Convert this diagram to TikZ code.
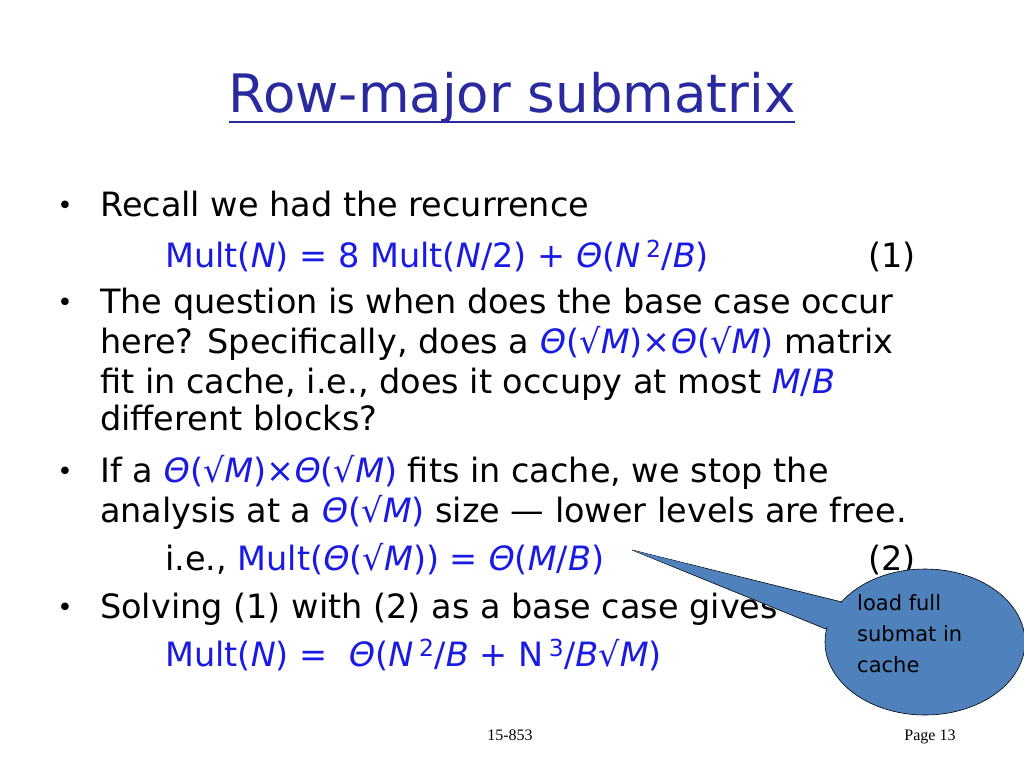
\documentclass[tikz,border=0pt]{standalone}
\usepackage{fontspec}
\usetikzlibrary{shapes.geometric}
\setmainfont{DejaVu Sans}
\newfontfamily\footfont{Liberation Serif}
\definecolor{tblue}{HTML}{2A2AA0}
\definecolor{mblue}{HTML}{1A1AE6}
\definecolor{callfill}{HTML}{4F81BD}
\begin{document}
\begin{tikzpicture}[x=1pt,y=-1pt,
  txt/.style={anchor=base west,inner sep=0pt,font=\fontsize{33.5}{40}\selectfont},
  bul/.style={anchor=base,inner sep=0pt,font=\fontsize{26}{30}\selectfont}]
\newcommand{\bl}[1]{\textcolor{mblue}{#1}}
\newcommand{\iv}[1]{\textit{#1}}
\useasboundingbox (0,0) rectangle (1024,768);
\fill[white] (0,0) rectangle (1024,768);
\node[anchor=base,inner sep=0pt,text=tblue,font=\fontsize{53}{60}\selectfont] (title) at (512,112) {Row-major submatrix};
\draw[tblue,line width=1.5pt] (229,122) -- (795,122);

\node[bul] (b1) at (65,214) {•};
\node[txt] (l1) at (100,216) {Recall we had the recurrence};
\node[txt] (l2) at (165,267) {\bl{Mult(\iv{N}) = 8 Mult(\iv{N}/2) + \iv{Θ}(\iv{N}\,\textsuperscript{2}/\iv{B})}};
\node[txt] (n1) at (868,267) {(1)};
\node[bul] (b2) at (65,311) {•};
\node[txt] (l3) at (100,313) {The question is when does the base case occur};
\node[txt] (l4) at (100,353) {here? Specifically, does a \bl{\iv{Θ}(√\iv{M})×\iv{Θ}(√\iv{M})} matrix};
\node[txt] (l5) at (100,393) {fit in cache, i.e., does it occupy at most \bl{\iv{M}/\iv{B}}};
\node[txt] (l6) at (100,430) {different blocks?};
\node[bul] (b3) at (65,480) {•};
\node[txt] (l7) at (100,482) {If a \bl{\iv{Θ}(√\iv{M})×\iv{Θ}(√\iv{M})} fits in cache, we stop the};
\node[txt] (l8) at (100,522) {analysis at a \bl{\iv{Θ}(√\iv{M})} size — lower levels are free.};
\node[txt] (l9) at (165,570) {i.e., \bl{Mult(\iv{Θ}(√\iv{M})) = \iv{Θ}(\iv{M}/\iv{B})}};
\node[txt] (n2) at (868,570) {(2)};
\node[bul] (b4) at (65,616) {•};
\node[txt] (l10) at (100,618) {Solving (1) with (2) as a base case gives};
\node[txt] (l11) at (165,666) {\bl{Mult(\iv{N}) = \ \iv{Θ}(\iv{N}\,\textsuperscript{2}/\iv{B} + N\,\textsuperscript{3}/\iv{B}√\iv{M})}};

% callout
\coordinate (tip) at (632,550);
\draw[fill=callfill,line width=0.6pt] (tip) -- (850,604) -- (838,634) -- cycle;
\node[ellipse,draw,fill=callfill,line width=0.6pt,minimum width=200,minimum height=146,inner sep=0pt] (call) at (925,642) {};
\fill[callfill] (tip) -- (853,606) -- (841,632) -- cycle;
\node[anchor=north west,align=left,inner sep=0pt,font=\fontsize{21}{31}\selectfont] (ct) at (857,594) {load full\\submat in\\cache};

\node[anchor=base,inner sep=0pt,font=\footfont\fontsize{16}{18}\selectfont] (f1) at (510,740) {15-853};
\node[anchor=base,inner sep=0pt,font=\footfont\fontsize{16}{18}\selectfont] (f2) at (930,740) {Page 13};
\end{tikzpicture}
\end{document}
